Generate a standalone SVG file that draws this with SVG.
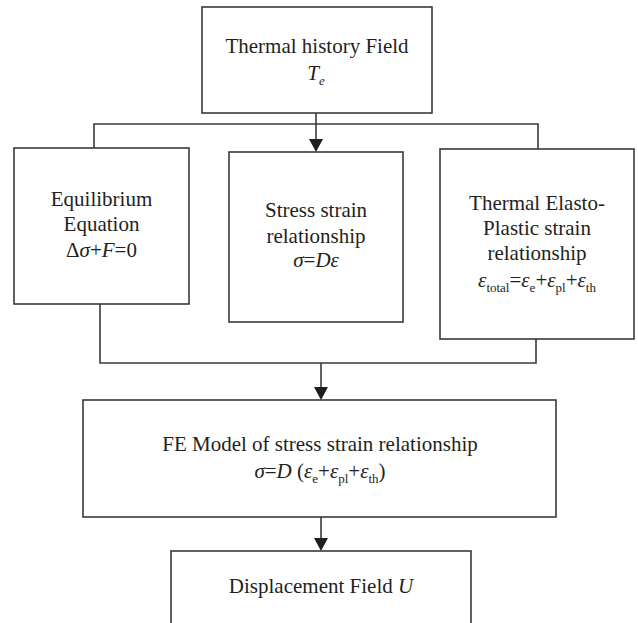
<svg xmlns="http://www.w3.org/2000/svg" width="638" height="623" viewBox="0 0 638 623">
<style>
.box{fill:#fff;stroke:#3a3a3a;stroke-width:1.6}
.wire{fill:none;stroke:#3a3a3a;stroke-width:1.6}
text{font-family:"Liberation Serif","Times New Roman",serif;font-size:21px;fill:#231f20;text-anchor:middle}
.i{font-style:italic}
.s{font-size:13px}
</style>
<defs>
<marker id="ah" markerUnits="userSpaceOnUse" markerWidth="14" markerHeight="14" viewBox="0 0 14 14" refX="7" refY="14" orient="auto-start-reverse">
<path d="M0,0 L14,0 L7,14 Z" fill="#1e1e1e" transform="rotate(-90 7 7)"/>
</marker>
</defs>
<rect width="638" height="623" fill="#fff"/>
<g id="connectors">
<path class="wire" d="M94,148 V124 H538 V149"/>
<path class="wire" d="M100,304 V363 H536 V339"/>
<line class="wire" x1="316" y1="113" x2="316" y2="139"/>
<polygon points="309,139 323,139 316,152" fill="#1e1e1e"/>
<line class="wire" x1="321" y1="363" x2="321" y2="387"/>
<polygon points="314,387 328,387 321,400" fill="#1e1e1e"/>
<line class="wire" x1="321" y1="517" x2="321" y2="538"/>
<polygon points="314,538 328,538 321,551" fill="#1e1e1e"/>
</g>
<g id="thermal-history">
<rect class="box" x="202" y="7" width="230" height="106"/>
<text x="317" y="53">Thermal history Field</text>
<text x="316" y="80"><tspan class="i">T</tspan><tspan class="i s" dy="5">e</tspan></text>
</g>
<g id="equilibrium">
<rect class="box" x="14" y="148" width="175" height="156"/>
<text x="101.5" y="206">Equilibrium</text>
<text x="101.5" y="231">Equation</text>
<text x="101.5" y="257">Δ<tspan class="i">σ</tspan>+<tspan class="i">F</tspan>=0</text>
</g>
<g id="stress-strain">
<rect class="box" x="229" y="152" width="174" height="170"/>
<text x="316" y="217">Stress strain</text>
<text x="316" y="243">relationship</text>
<text x="316" y="267"><tspan class="i">σ</tspan>=<tspan class="i">Dε</tspan></text>
</g>
<g id="thermal-elasto-plastic">
<rect class="box" x="440" y="149" width="194" height="190"/>
<text x="537" y="210">Thermal Elasto-</text>
<text x="537" y="235">Plastic strain</text>
<text x="537" y="260">relationship</text>
<text x="537" y="287"><tspan class="i">ε</tspan><tspan class="s" dy="5">total</tspan><tspan dy="-5">=</tspan><tspan class="i">ε</tspan><tspan class="s" dy="5">e</tspan><tspan dy="-5">+</tspan><tspan class="i">ε</tspan><tspan class="s" dy="5">pl</tspan><tspan dy="-5">+</tspan><tspan class="i">ε</tspan><tspan class="s" dy="5">th</tspan></text>
</g>
<g id="fe-model">
<rect class="box" x="83" y="400" width="473" height="117"/>
<text x="320" y="451">FE Model of stress strain relationship</text>
<text x="320" y="478"><tspan class="i">σ</tspan>=<tspan class="i">D</tspan> (<tspan class="i">ε</tspan><tspan class="s" dy="5">e</tspan><tspan dy="-5">+</tspan><tspan class="i">ε</tspan><tspan class="s" dy="5">pl</tspan><tspan dy="-5">+</tspan><tspan class="i">ε</tspan><tspan class="s" dy="5">th</tspan><tspan dy="-5">)</tspan></text>
</g>
<g id="displacement">
<rect class="box" x="171" y="551" width="300" height="90"/>
<text x="321" y="593">Displacement Field <tspan class="i">U</tspan></text>
</g>
</svg>
